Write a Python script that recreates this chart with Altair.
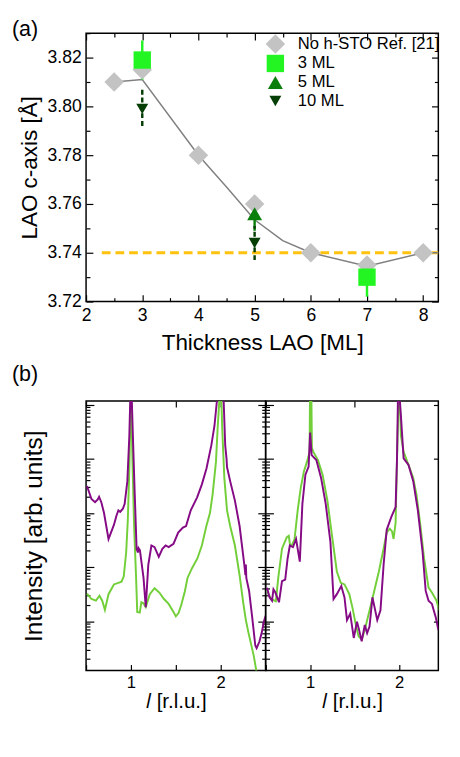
import altair as alt
import pandas as pd

FONT = "Liberation Sans"

# ---------------- panel (a) data ----------------
series_names = ["No h-STO Ref. [21]", "3 ML", "5 ML", "10 ML"]
series_colors = ["#C3C3C3", "#22F522", "#0B7F0B", "#063F06"]
series_shapes = ["diamond", "square", "triangle-up", "triangle-down"]
series_sizes = [400, 150, 500, 500]

ref_x = [2.5, 3, 4, 5, 6, 7, 8]
ref_y = [3.810, 3.815, 3.780, 3.760, 3.740, 3.735, 3.740]

ml3_x = [3, 7]
ml3_y = [3.819, 3.730]
ml3_lo = [3.811, 3.722]
ml3_hi = [3.827, 3.738]

ml5_x = [5]
ml5_y = [3.756]
ml5_lo = [3.749]
ml5_hi = [3.763]

ml10_x = [3, 5]
ml10_y = [3.799, 3.744]
ml10_lo = [3.792, 3.737]
ml10_hi = [3.807, 3.751]

guide_x = [2.5, 3.0, 4.0, 4.5, 5.0, 5.5, 6.0, 7.0, 8.0, 8.5]
guide_y = [3.810, 3.811, 3.780, 3.767, 3.7535, 3.745, 3.740, 3.7345, 3.740, 3.740]

bulk_c = [3.74]
bulk_x0 = [2.28]
bulk_x1 = [8.5]

x_ticks_a = [2, 2.5, 3, 3.5, 4, 4.5, 5, 5.5, 6, 6.5, 7, 7.5, 8]
y_ticks_a = [3.72, 3.73, 3.74, 3.75, 3.76, 3.77, 3.78, 3.79, 3.80, 3.81, 3.82, 3.83]

# ---------------- panel (b) data (l in r.l.u., log10 intensity) ----------------
lp_l = [0.51, 0.56, 0.60, 0.63, 0.645, 0.67, 0.70, 0.75, 0.81, 0.84, 0.86, 0.88, 0.91, 0.93, 0.96, 0.982,
        1.0, 1.017, 1.042, 1.063, 1.077, 1.085, 1.10, 1.14, 1.165, 1.193, 1.228, 1.263, 1.31, 1.35, 1.386,
        1.42, 1.474, 1.526, 1.579, 1.614, 1.666, 1.737, 1.79, 1.842, 1.895, 1.93, 1.965, 2.0, 2.03, 2.05,
        2.065, 2.07, 2.105, 2.158, 2.21, 2.263, 2.275, 2.28, 2.285, 2.316, 2.35, 2.385, 2.40, 2.43, 2.456,
        2.48, 2.50]
lp_v = [3.50, 3.26, 3.20, 3.25, 3.30, 3.20, 3.00, 2.52, 2.78, 2.96, 3.05, 3.02, 3.08, 3.17, 3.59, 4.43,
        5.6, 4.67, 3.35, 2.34, 2.27, 2.35, 2.31, 1.80, 1.26, 2.04, 2.40, 2.37, 2.19, 2.34, 2.40,
        2.37, 2.43, 2.64, 2.73, 2.76, 3.05, 3.29, 3.53, 3.83, 4.25, 4.61, 5.2, 5.8, 5.2, 4.25,
        4.0, 3.85, 3.59, 3.23, 2.76, 2.04, 1.85, 2.05, 1.80, 1.56, 1.08, 0.55, 0.50, 0.62, 0.78,
        0.99, 1.10]

gl_l = [0.51, 0.56, 0.61, 0.65, 0.68, 0.71, 0.75, 0.81, 0.86, 0.895, 0.92, 0.947, 0.965, 0.982, 1.0,
        1.017, 1.035, 1.056, 1.07, 1.098, 1.116, 1.14, 1.165, 1.21, 1.263, 1.316, 1.368, 1.42, 1.474,
        1.50, 1.53, 1.56, 1.60, 1.63, 1.68, 1.74, 1.79, 1.84, 1.88, 1.91, 1.947, 1.965, 2.0, 2.017,
        2.04, 2.07, 2.105, 2.158, 2.21, 2.25, 2.28, 2.31, 2.368, 2.40]
gl_v = [1.51, 1.41, 1.38, 1.47, 1.38, 1.21, 1.50, 1.68, 1.71, 1.73, 1.83, 2.28, 2.87, 3.83, 5.3,
        3.95, 2.76, 1.86, 1.17, 1.16, 1.35, 1.33, 1.26, 1.50, 1.61, 1.53, 1.41, 1.32, 1.17,
        1.09, 1.15, 1.30, 1.55, 1.80, 1.98, 2.16, 2.40, 2.76, 3.0, 3.35, 3.95, 4.55, 5.5, 4.55,
        3.65, 3.05, 2.76, 2.40, 1.85, 1.35, 1.02, 0.78, 0.36, 0.05]

pr_l = [0.516, 0.544, 0.572, 0.588, 0.61, 0.65, 0.684, 0.72, 0.747, 0.772, 0.807, 0.842, 0.884, 0.913,
        0.947, 0.983, 1.0, 1.017, 1.07, 1.123, 1.175, 1.228, 1.263, 1.30, 1.35, 1.386, 1.414, 1.45,
        1.49, 1.526, 1.55, 1.579, 1.614, 1.64, 1.667, 1.70, 1.754, 1.79, 1.825, 1.86, 1.912, 1.96,
        1.975, 1.99, 2.02, 2.05, 2.105, 2.158, 2.21, 2.263, 2.298, 2.33, 2.368, 2.41, 2.44]
pr_v = [1.62, 1.44, 1.38, 1.59, 1.53, 1.35, 1.74, 1.77, 2.16, 2.40, 2.37, 2.52, 2.10, 3.17,
        3.71, 3.86, 4.49, 4.07, 3.98, 3.65, 3.17, 2.46, 1.41, 1.50, 1.65, 1.44, 1.02, 1.14,
        0.69, 0.99, 0.84, 0.63, 0.93, 0.78, 0.90, 1.44, 1.02, 1.20, 2.04, 2.69, 2.93, 3.11,
        3.95, 5.5, 4.79, 4.01, 3.89, 3.59, 3.05, 2.28, 1.56, 1.38, 1.32, 1.08, 0.84]

gr_l = [0.516, 0.562, 0.615, 0.642, 0.684, 0.737, 0.76, 0.775, 0.80, 0.825, 0.86, 0.895, 0.93, 0.965,
        0.994, 1.0, 1.012, 1.02, 1.036, 1.088, 1.14, 1.194, 1.246, 1.30, 1.344, 1.386, 1.44, 1.474,
        1.51, 1.544, 1.579, 1.614, 1.667, 1.72, 1.772, 1.825, 1.86, 1.895, 1.92, 1.937, 1.96, 1.975,
        2.0, 2.02, 2.05, 2.105, 2.158, 2.175, 2.194, 2.239, 2.28, 2.33, 2.368, 2.42, 2.45]
gr_v = [1.56, 1.41, 1.37, 1.80, 2.34, 2.55, 2.58, 2.40, 2.42, 2.52, 3.05, 3.47, 3.77, 3.95,
        4.13, 5.5, 5.5, 4.2, 4.13, 3.98, 3.71, 3.23, 2.58, 1.92, 1.71, 1.68, 1.50, 1.26,
        0.96, 0.72, 0.66, 0.84, 1.20, 1.56, 1.92, 2.34, 2.64, 2.71, 2.66, 2.52, 2.82, 3.95,
        5.5, 4.43, 4.13, 3.89, 3.65, 3.50, 3.35, 2.76, 2.16, 1.62, 1.53, 1.38, 1.2]

x_ticks_b = [0.5, 1.0, 1.5, 2.0, 2.5]
log_lo, log_hi = 0.09, 5.07
y_ticks_b = [m * 10 ** e for e in range(0, 6) for m in range(1, 10)]
y_ticks_b = [v for v in y_ticks_b if 10 ** log_lo <= v <= 10 ** log_hi]
y_decades_b = [10, 100, 1000, 10000, 100000]

PURPLE = "#850A85"
LGREEN = "#72CF3A"


def ax(**kw):
    base = dict(domain=False, grid=False, labelFont=FONT, titleFont=FONT, labelColor="black",
                titleColor="black", tickColor="black", titleFontWeight="normal", tickWidth=1.2)
    base.update(kw)
    return alt.Axis(**base)


def cond(test, major, minor):
    return {"condition": {"test": test, "value": major}, "value": minor}


def inward(n):
    return cond("true", -n, -n)


# ---------------- panel (a) ----------------
xs_a = alt.Scale(domain=[2, 8.27], nice=False, zero=False)
ys_a = alt.Scale(domain=[3.72, 3.83], nice=False, zero=False)

x_major = "datum.value % 1 === 0"
y_major = "round(datum.value * 100) % 2 === 0"

ax_xa = ax(values=x_ticks_a, title="Thickness LAO [ML]", titleFontSize=23, labelFontSize=18,
           labelExpr="datum.value % 1 === 0 ? format(datum.value, 'd') : ''",
           tickSize=cond(x_major, -7, -4), labelPadding=12, titlePadding=8, labelFlush=False)
ax_ya = ax(values=y_ticks_a, title="LAO c-axis [Å]", titleFontSize=23, labelFontSize=18,
           labelExpr="round(datum.value * 100) % 2 === 0 ? format(datum.value, '.2f') : ''",
           tickSize=cond(y_major, -7, -4), labelPadding=12, titlePadding=6, labelFlush=False)
ax_xa_top = ax(values=x_ticks_a, orient="top", labels=False, title=None, tickSize=cond(x_major, -7, -4))
ax_ya_right = ax(values=y_ticks_a, orient="right", labels=False, title=None, tickSize=cond(y_major, -7, -4))

rows = []
for xv, yv in zip(ref_x, ref_y):
    rows.append({"series": series_names[0], "x": xv, "y": yv})
for xv, yv in zip(ml3_x, ml3_y):
    rows.append({"series": series_names[1], "x": xv, "y": yv})
for xv, yv in zip(ml5_x, ml5_y):
    rows.append({"series": series_names[2], "x": xv, "y": yv})
for xv, yv in zip(ml10_x, ml10_y):
    rows.append({"series": series_names[3], "x": xv, "y": yv})
pts_df = pd.DataFrame(rows)

guide_df = pd.DataFrame({"x": guide_x, "y": guide_y})
bulk_df = pd.DataFrame({"x": bulk_x0, "x2": bulk_x1, "y": bulk_c})

X_a = alt.X("x:Q", scale=xs_a, axis=ax_xa)
Y_a = alt.Y("y:Q", scale=ys_a, axis=ax_ya)

bulk = alt.Chart(bulk_df).mark_rule(color="#FFC20E", strokeWidth=3, strokeDash=[9, 5], clip=True).encode(
    x=X_a, x2="x2:Q", y=Y_a)
guide = alt.Chart(guide_df).mark_line(color="#808080", strokeWidth=1.5, clip=True).encode(x=X_a, y=Y_a)


def errbar(xs, lo, hi, color, dash=None):
    df = pd.DataFrame({"x": xs, "y": lo, "y2": hi})
    kw = dict(color=color, strokeWidth=2.5)
    if dash:
        kw["strokeDash"] = dash
    return alt.Chart(df).mark_rule(**kw).encode(x=X_a, y=Y_a, y2="y2:Q")


err3 = errbar(ml3_x, ml3_lo, ml3_hi, series_colors[1])
err5 = errbar(ml5_x, ml5_lo, ml5_hi, series_colors[2])
err10 = errbar(ml10_x, ml10_lo, ml10_hi, series_colors[3], dash=[5, 3])

leg = alt.Legend(title=None, orient="none", legendX=184, legendY=1, labelFont=FONT, labelFontSize=17,
                 labelColor="black", labelOffset=13, rowPadding=1, padding=0, symbolStrokeWidth=0)
pts = alt.Chart(pts_df).mark_point(filled=True, opacity=1, strokeWidth=0).encode(
    x=X_a, y=Y_a,
    color=alt.Color("series:N", sort=series_names,
                    scale=alt.Scale(domain=series_names, range=series_colors), legend=leg),
    shape=alt.Shape("series:N", sort=series_names,
                    scale=alt.Scale(domain=series_names, range=series_shapes), legend=leg),
    size=alt.Size("series:N", sort=series_names,
                  scale=alt.Scale(domain=series_names, range=series_sizes), legend=leg),
)

tr_a = alt.Chart(guide_df).mark_line(opacity=0).encode(
    x=alt.X("x:Q", scale=xs_a, axis=ax_xa_top), y=alt.Y("y:Q", scale=ys_a, axis=ax_ya_right))

panel_a = alt.layer(alt.layer(bulk, guide, err3, err5, err10, pts), tr_a).resolve_axis(
    x="independent", y="independent").properties(
    width=361, height=275,
    title=alt.TitleParams("(a)", anchor="start", frame="group", dx=-76, fontSize=22, font=FONT,
                          fontWeight="normal", color="black", offset={"expr": "-8"}))

# ---------------- panel (b) ----------------
ys_b = alt.Scale(type="log", domain=[10 ** log_lo, 10 ** log_hi], nice=False)
dec_test = "abs(log(datum.value) / LN10 - round(log(datum.value) / LN10)) < 0.001"
XLAB = "\U0001D459 [r.l.u.]"


def panel_b(purple_l, purple_v, green_l, green_v, x_hi, width, left_title, right_decades_only, title=None):
    xs = alt.Scale(domain=[0.5, x_hi], nice=False, zero=False)
    ax_x = ax(values=x_ticks_b, title=XLAB, titleFontSize=21, labelFontSize=17,
              labelExpr="datum.value % 1 === 0 ? format(datum.value, 'd') : ''",
              tickSize=inward(6), labelPadding=11, titlePadding=0, labelFlush=False)
    if left_title:
        ax_y = ax(values=y_ticks_b, labels=False, title="Intensity [arb. units]", titleFontSize=25,
                  tickSize=cond(dec_test, -8, -4), titlePadding=40)
    else:
        ax_y = ax(values=y_ticks_b, labels=False, title=None, tickSize=cond(dec_test, -8, -4))
    ax_xt = ax(values=x_ticks_b, orient="top", labels=False, title=None, tickSize=inward(6))
    if right_decades_only:
        ax_yr = ax(values=y_decades_b, orient="right", labels=False, title=None, tickSize=inward(5))
    else:
        ax_yr = ax(values=y_ticks_b, orient="right", labels=False, title=None, tickSize=cond(dec_test, -8, -4))

    X = alt.X("l:Q", scale=xs, axis=ax_x)
    Y = alt.Y("I:Q", scale=ys_b, axis=ax_y)
    pdf = pd.DataFrame({"l": purple_l, "lg": purple_v})
    gdf = pd.DataFrame({"l": green_l, "lg": green_v})
    pl = alt.Chart(pdf).transform_calculate(I="pow(10, datum.lg)").mark_line(
        color=PURPLE, strokeWidth=2, clip=True).encode(x=X, y=Y)
    gl = alt.Chart(gdf).transform_calculate(I="pow(10, datum.lg)").mark_line(
        color=LGREEN, strokeWidth=2, clip=True).encode(x=X, y=Y)
    tr = alt.Chart(gdf).transform_calculate(I="pow(10, datum.lg)").mark_line(opacity=0).encode(
        x=alt.X("l:Q", scale=xs, axis=ax_xt), y=alt.Y("I:Q", scale=ys_b, axis=ax_yr))
    props = dict(width=width, height=276)
    if title:
        props["title"] = alt.TitleParams(title, anchor="start", frame="group", dx=-76, fontSize=22, font=FONT,
                                         fontWeight="normal", color="black", offset={"expr": "-8"})
    return alt.layer(alt.layer(gl, pl), tr).resolve_axis(x="independent", y="independent").properties(**props)


left_b = panel_b(lp_l, lp_v, gl_l, gl_v, 2.5, 184, True, False, title="(b)")
right_b = panel_b(pr_l, pr_v, gr_l, gr_v, 2.44, 177, False, True)

panel_bc = alt.hconcat(left_b, right_b, spacing=0, bounds="flush")

chart = alt.vconcat(panel_a, panel_bc, spacing=102, bounds="flush").properties(
    padding={"left": 3, "top": 0, "right": 0, "bottom": 0}
).configure_view(stroke="black", strokeWidth=1.5)

chart.save("out.html", embed_options={"renderer": "svg", "actions": False})
